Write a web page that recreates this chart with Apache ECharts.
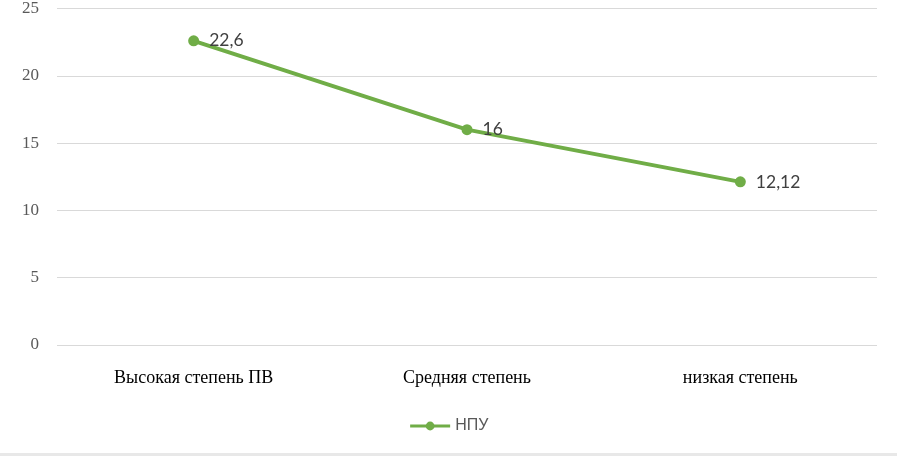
<!DOCTYPE html>
<html>
<head>
<meta charset="utf-8">
<script src="https://cdn.jsdelivr.net/npm/echarts@6/dist/echarts.min.js"></script>
<style>
html,body{margin:0;padding:0;background:#fff;}
#chart{width:897px;height:456px;}
</style>
</head>
<body>
<div id="chart"></div>
<script>
const categories = ['Высокая степень ПВ', 'Средняя степень', 'низкая степень'];
const seriesName = 'НПУ';
const values = [22.6, 16, 12.12];
const yTicks = { min: 0, max: 25, interval: 5 };

const chart = echarts.init(document.getElementById('chart'), null, { renderer: 'canvas' });
chart.setOption({
  animation: false,
  backgroundColor: '#ffffff',
  grid: { left: 57, right: 20, top: 6, bottom: 111, containLabel: false },
  legend: {
    bottom: 17,
    left: 'center',
    data: [seriesName],
    itemWidth: 40,
    itemHeight: 11,
    itemGap: 5,
    lineStyle: { width: 3 },
    textStyle: { fontFamily: 'Liberation Sans, Arial, sans-serif', fontSize: 16, color: '#595959' }
  },
  xAxis: {
    type: 'category',
    data: categories,
    boundaryGap: true,
    axisLine: { show: false },
    axisTick: { show: false },
    axisLabel: {
      margin: 24,
      fontFamily: 'Liberation Serif, Times New Roman, serif',
      fontSize: 18,
      color: '#000000'
    }
  },
  yAxis: {
    type: 'value',
    min: yTicks.min,
    max: yTicks.max,
    interval: yTicks.interval,
    axisLine: { show: false },
    axisTick: { show: false },
    splitLine: { lineStyle: { color: '#d9d9d9', width: 1 } },
    axisLabel: {
      margin: 18,
      fontFamily: 'Liberation Serif, Times New Roman, serif',
      fontSize: 17,
      color: '#595959'
    }
  },
  series: [{
    name: seriesName,
    type: 'line',
    data: values,
    symbol: 'circle',
    symbolSize: 11,
    lineStyle: { color: '#70ad47', width: 4 },
    itemStyle: { color: '#70ad47' },
    label: {
      show: true,
      position: 'right',
      distance: 10,
      fontFamily: 'Lato, Open Sans, sans-serif',
      fontSize: 17.5,
      color: '#404040',
      formatter: p => String(p.value).replace('.', ',')
    }
  }],
  graphic: [{
    type: 'rect',
    left: 0,
    top: 453,
    shape: { width: 897, height: 3 },
    style: { fill: '#e8e8e8' },
    silent: true
  }]
});
</script>
</body>
</html>
